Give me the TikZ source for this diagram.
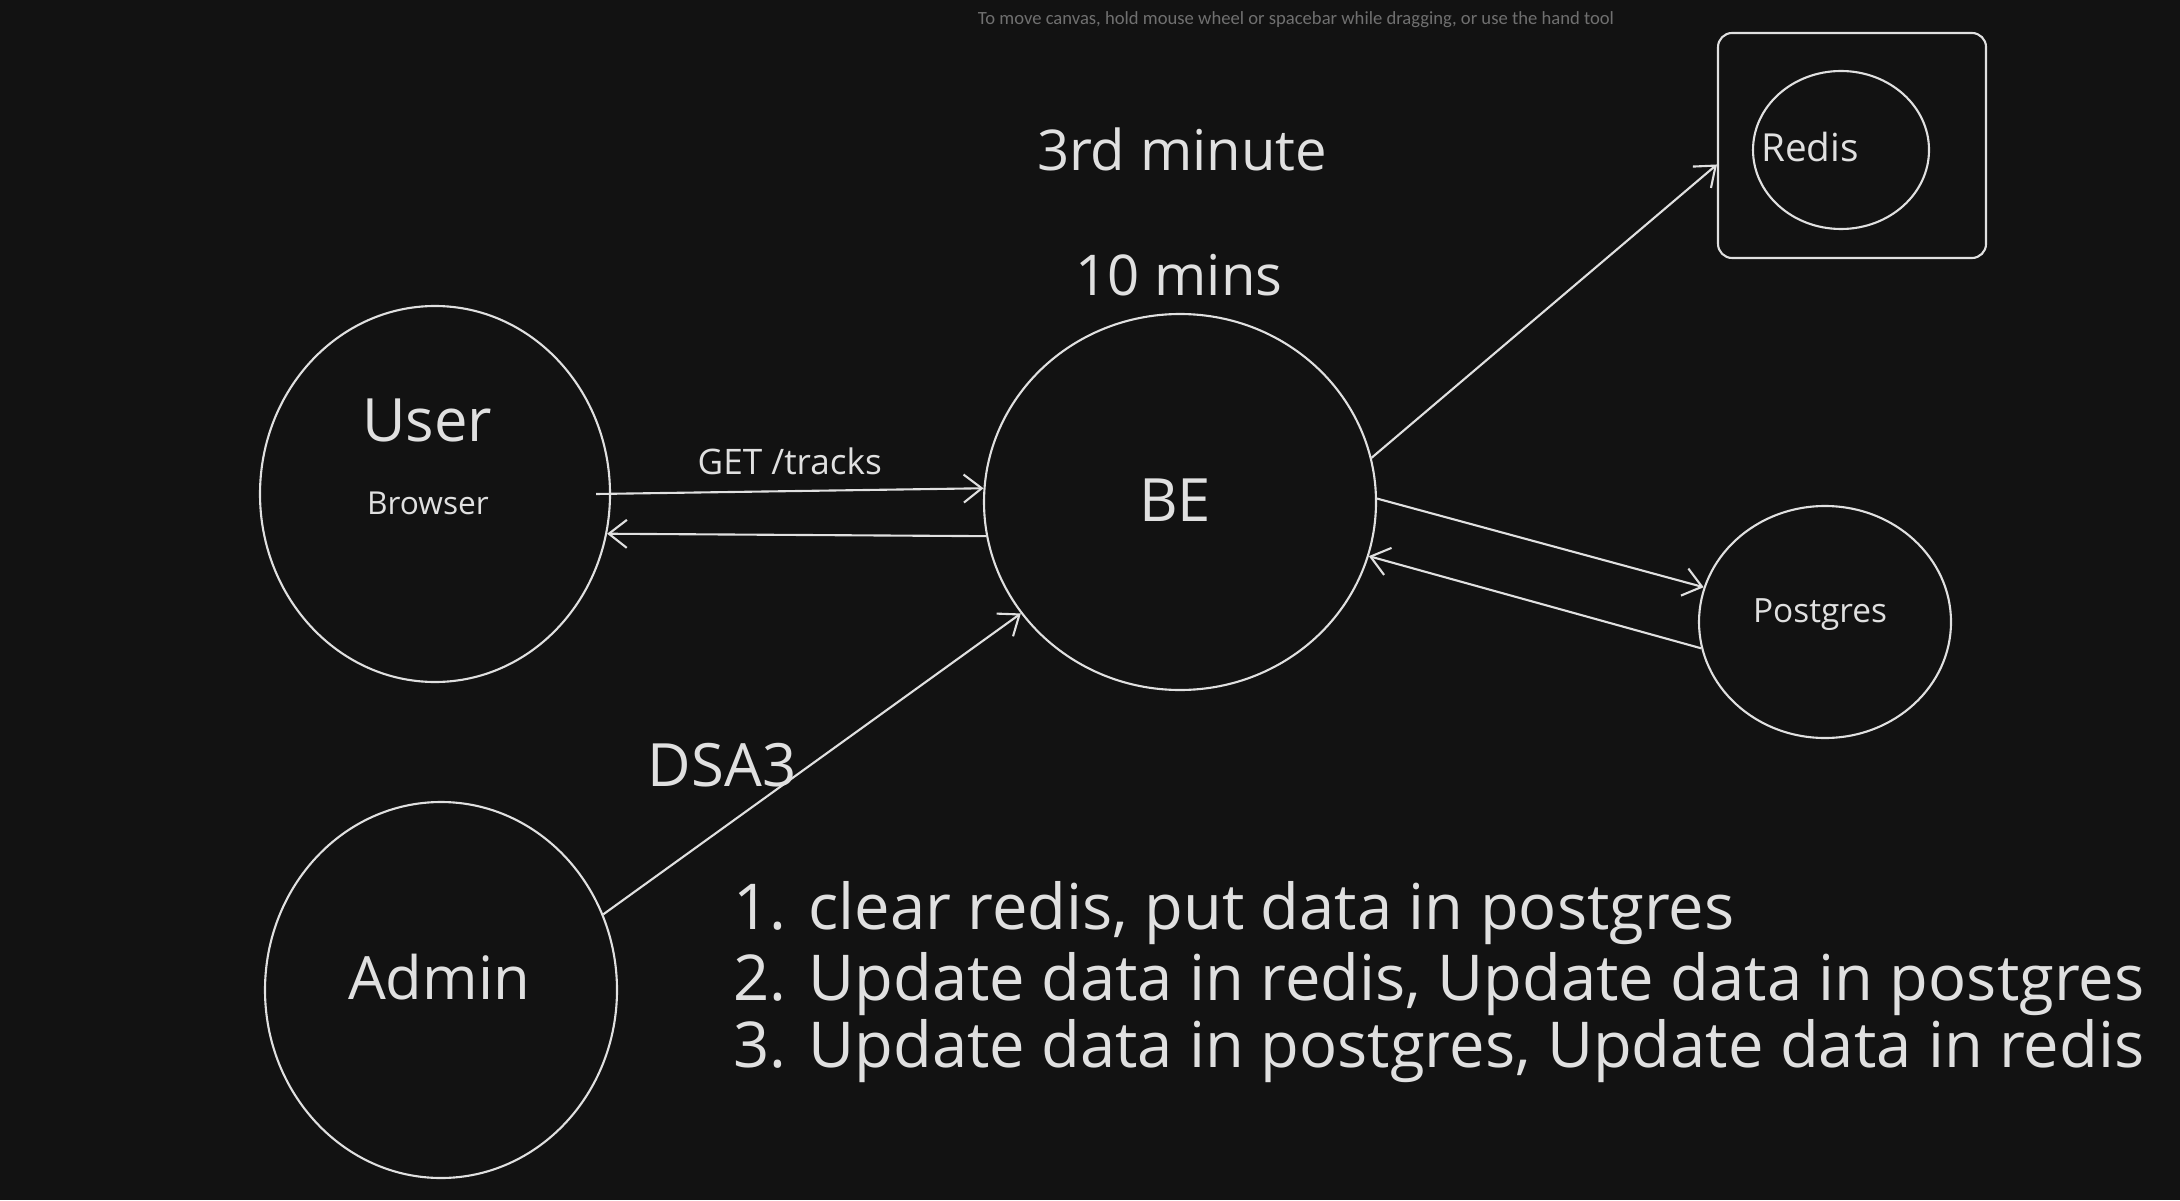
\documentclass[tikz,border=0pt]{standalone}
\usepackage{fontspec}
\setmainfont{Open Sans}
\newfontfamily\hintfont{Carlito}
\usetikzlibrary{arrows.meta,shapes.geometric}
\definecolor{bg}{HTML}{121212}
\definecolor{ink}{HTML}{E0E0E0}
\definecolor{hintgray}{HTML}{707070}

\begin{document}
\begin{tikzpicture}[
  ell/.style={draw=ink, ellipse, line width=0.6pt, inner sep=0pt},
  box/.style={draw=ink, rectangle, rounded corners=4pt, line width=0.6pt, inner sep=0pt},
lnk/.style={-{Straight Barb[length=1.8mm,width=2.8mm]}, draw=ink, line width=0.6pt},
big/.style={text=ink, font=\fontsize{17}{21}\selectfont},
sml/.style={text=ink, font=\fontsize{9}{11}\selectfont},
opt/.style={text=ink, font=\fontsize{18}{21}\selectfont, inner sep=0pt, anchor=base west},
]
\useasboundingbox (0,0) rectangle (21.8,12);
\fill[bg] (0,0) rectangle (21.8,12);
\node[text=hintgray, font=\hintfont\fontsize{5.3}{6}\selectfont] (hint) at (12.96,11.80)
  {To move canvas, hold mouse wheel or spacebar while dragging, or use the hand tool};

\node[ell, minimum width=3.50cm, minimum height=3.76cm] (user) at (4.35,7.06) {};
\node[ell, minimum width=3.92cm, minimum height=3.76cm] (be) at (11.80,6.98) {};
\node[ell, minimum width=3.52cm, minimum height=3.76cm] (admin) at (4.41,2.10) {};
\node[box, minimum width=2.68cm, minimum height=2.25cm] (redisbox) at (18.52,10.545) {};
\node[ell, minimum width=1.76cm, minimum height=1.58cm] (redis) at (18.41,10.50) {};
\node[ell, minimum width=2.52cm, minimum height=2.32cm] (pg) at (18.25,5.78) {};

\node[big] (usertxt) at (4.27,7.80) {User};
\node[sml] (browsertxt) at (4.28,6.97) {Browser};
\node[big] (betxt) at (11.75,7.00) {BE};
\node[big] (admintxt) at (4.39,2.23) {Admin};
\node[text=ink, font=\fontsize{11}{13}\selectfont] (redistxt) at (18.10,10.53) {Redis};
\node[text=ink, font=\fontsize{9.5}{11}\selectfont] (pgtxt) at (18.20,5.85) {Postgres};
\node[big, font=\fontsize{16}{19}\selectfont] (minute) at (11.82,10.51) {3rd minute};
\node[big, font=\fontsize{16}{19}\selectfont] (mins) at (11.79,9.25) {10 mins};

% requests
\draw[lnk] ([xshift=-1.5mm]user.0) -- (be.176) node[midway, above=1pt, text=ink, font=\fontsize{10}{12}\selectfont] (get) {GET /tracks};
\draw[lnk] (be.-170.5) -- (user.-13.4);
\draw[lnk] (be.13) -- (redisbox.188);
\draw[lnk] (be.1.5) -- (pg.164);
\draw[lnk] (pg.-168) -- (be.-16);
\draw[lnk] (admin.25) -- (be.-145);
\node[big] (dsa) at (7.22,4.35) {DSA3};

% options
\node[opt] (step1) at (7.33,2.71) {1. clear redis, put data in postgres};
\node[opt] (step2) at (7.33,2.00) {2. Update data in redis, Update data in postgres};
\node[opt] (step3) at (7.33,1.33) {3. Update data in postgres, Update data in redis};
\end{tikzpicture}
\end{document}
